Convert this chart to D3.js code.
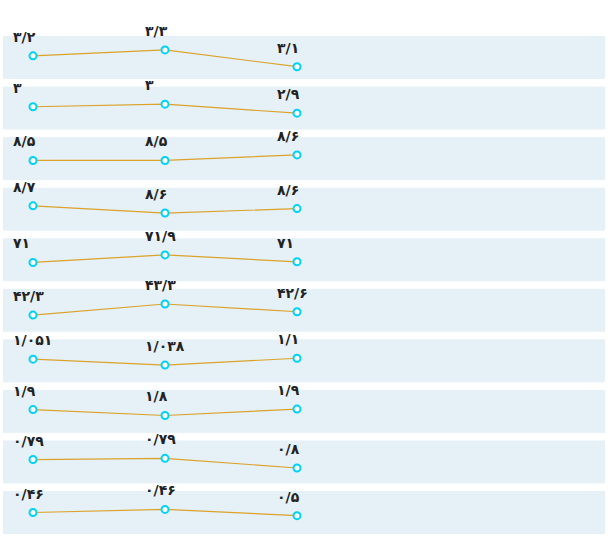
<!DOCTYPE html>
<html>
<head>
<meta charset="utf-8">
<script src="https://cdn.jsdelivr.net/npm/d3@7"></script>
<style>
  body { margin: 0; background: #fff; }
  svg { display: block; }
  .lbl { font-family: "DejaVu Sans", sans-serif; font-size: 14px; font-weight: bold; fill: #222; }
</style>
</head>
<body>
<div id="chart"></div>
<script>
// one row per measure, three periods each
var rows = [0, 1, 2, 3, 4, 5, 6, 7, 8, 9];
var periods = [0, 1, 2];
var values = [
  [3.22, 3.26, 3.147],
  [2.978, 2.994, 2.938],
  [8.52, 8.52, 8.62],
  [8.69, 8.56, 8.64],
  [70.8, 71.93, 70.9],
  [42.32, 43.31, 42.62],
  [1.051, 1.038, 1.053],
  [1.872, 1.849, 1.874],
  [0.791, 0.793, 0.777],
  [0.459, 0.462, 0.456]
];
var labels = [
  ['3/2', '3/3', '3/1'],
  ['3', '3', '2/9'],
  ['8/5', '8/5', '8/6'],
  ['8/7', '8/6', '8/6'],
  ['71', '71/9', '71'],
  ['42/3', '43/3', '42/6'],
  ['1/051', '1/038', '1/1'],
  ['1/9', '1/8', '1/9'],
  ['0/79', '0/79', '0/8'],
  ['0/46', '0/46', '0/5']
];

var width = 612, height = 539;
var fa = '۰۱۲۳۴۵۶۷۸۹';
function toFa(s) { return s.replace(/[0-9]/g, function(c) { return fa[+c]; }); }

var svg = d3.select('#chart').append('svg').attr('width', width).attr('height', height);

var yRow = d3.scaleBand().domain(rows).range([36, 534]).paddingInner(0.15);
var x = d3.scalePoint().domain(periods).range([33, 297]);

rows.forEach(function(r) {
  var vals = values[r];
  var m = d3.mean(vals);
  var top = yRow(r), bw = yRow.bandwidth();
  var y = d3.scaleLinear().domain([m * 0.955, m * 1.045]).range([top + bw, top]);
  var g = svg.append('g');

  g.append('rect').attr('x', 3).attr('y', top).attr('width', 602).attr('height', bw).attr('fill', '#e5f1f6');

  var line = d3.line().x(function(d, i) { return x(i); }).y(function(d) { return y(d); });
  g.append('path').datum(vals).attr('d', line).attr('fill', 'none').attr('stroke', '#dca22a').attr('stroke-width', 1.2);

  g.selectAll('circle').data(vals).enter().append('circle')
    .attr('cx', function(d, i) { return x(i); })
    .attr('cy', function(d) { return y(d); })
    .attr('r', 3.5).attr('fill', '#fff').attr('stroke', '#00d2f5').attr('stroke-width', 2);

  g.selectAll('text').data(vals).enter().append('text').attr('class', 'lbl')
    .attr('x', function(d, i) { return x(i) - 20; })
    .attr('y', function(d) { return y(d) - 14; })
    .attr('text-anchor', 'start')
    .text(function(d, i) { return toFa(labels[r][i]); });
});
</script>
</body>
</html>
